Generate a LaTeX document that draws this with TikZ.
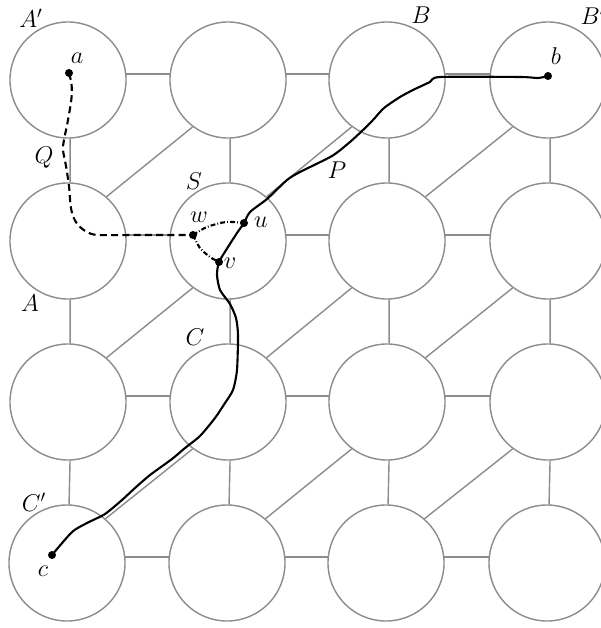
\documentclass[tikz,border=0pt]{standalone}
\usepackage{tikz}
\usetikzlibrary{positioning}
\usepackage{xcolor}
\definecolor{gridgray}{RGB}{140,140,140}

\begin{document}
\begin{tikzpicture}[
  x=0.025cm, y=-0.025cm,
  disk/.style={circle, draw=gridgray, line width=1pt, minimum size=2.9cm, inner sep=0pt},
  edge/.style={draw=gridgray, line width=1pt},
  dot/.style={circle, fill=black, inner sep=0pt, minimum size=2mm},
  lbl/.style={font=\LARGE, inner sep=0pt},
  walk/.style={line width=1.5pt, line join=round, line cap=round},
  qwalk/.style={walk, dash pattern=on 5pt off 3pt, line cap=butt},
  link/.style={walk, dash pattern=on 3.5pt off 1.5pt on 0.6pt off 1.5pt, line cap=butt},
]
  \useasboundingbox (0,0) rectangle (600,628);

  % the grid of disks
  \node[disk] (d11) at (68,80) {};
  \node[disk] (d12) at (228,80) {};
  \node[disk] (d13) at (387,80) {};
  \node[disk] (d14) at (548,80) {};
  \node[disk] (d21) at (68,241) {};
  \node[disk] (d22) at (228,241) {};
  \node[disk] (d23) at (387,241) {};
  \node[disk] (d24) at (548,241) {};
  \node[disk] (d31) at (68,402) {};
  \node[disk] (d32) at (228,402) {};
  \node[disk] (d33) at (387,402) {};
  \node[disk] (d34) at (548,402) {};
  \node[disk] (d41) at (67,563) {};
  \node[disk] (d42) at (227,563) {};
  \node[disk] (d43) at (386,563) {};
  \node[disk] (d44) at (547,563) {};

  % rows
  \draw[edge] (d11.6) -- (d12.174) (d12.6) -- (d13.174) (d13.6) -- (d14.174);
  \draw[edge] (d21.6) -- (d22.174) (d22.6) -- (d23.174) (d23.6) -- (d24.174);
  \draw[edge] (d31.6) -- (d32.174) (d32.6) -- (d33.174) (d33.6) -- (d34.174);
  \draw[edge] (d41.6) -- (d42.174) (d42.6) -- (d43.174) (d43.6) -- (d44.174);
  % columns
  \draw[edge] (d11.-88) -- (d21.88) (d21.-88) -- (d31.88) (d31.-88) -- (d41.88);
  \draw[edge] (d12.-88) -- (d22.88) (d22.-88) -- (d32.88) (d32.-88) -- (d42.88);
  \draw[edge] (d13.-88) -- (d23.88) (d23.-88) -- (d33.88) (d33.-88) -- (d43.88);
  \draw[edge] (d14.-88) -- (d24.88) (d24.-88) -- (d34.88) (d34.-88) -- (d44.88);
  % diagonals
  \draw[edge] (d21.49) -- (d12.233) (d22.49) -- (d13.233) (d23.49) -- (d14.233);
  \draw[edge] (d31.49) -- (d22.233) (d32.49) -- (d23.233) (d33.49) -- (d24.233);
  \draw[edge] (d41.49) -- (d32.233) (d42.49) -- (d33.233) (d43.49) -- (d34.233);

  % points
  \node[dot] (a) at (69,73) {};
  \node[dot] (b) at (548,76) {};
  \node[dot] (c) at (52,555) {};
  \node[dot] (u) at (244,223) {};
  \node[dot] (v) at (219,262) {};
  \node[dot] (w) at (193,235) {};

  % path P from b to c
  \draw[walk] plot[smooth, tension=0.4] coordinates {(b) (538,78) (520,77) (440,77)
    (430,82) (413,90) (400,97) (384,108) (373,120) (363,130) (350,142) (332,156)
    (300,172) (287,180) (267,199) (250,212) (u) (237,233) (228,247) (v) (217,275)
    (220,290) (230,304) (236,318) (238,335) (237,370) (233,390) (225,403) (215,418)
    (200,436) (185,448) (172,459) (150,475) (135,488) (122,500) (105,514) (87,523)
    (72,532) (c)};

  % path Q from a to w
  \draw[qwalk] plot[smooth, tension=0.5] coordinates {(a) (71.5,84) (71.5,98) (68,120)
    (64,140) (63,150) (66,166) (69,186) (70.5,205) (73,216) (78,225) (87,232) (98,235)
    (135,235) (w)};

  \draw[link] plot[smooth] coordinates {(w) (207,227) (226,222) (u)};
  \draw[link] plot[smooth] coordinates {(w) (200,248) (210,257) (v)};

  % labels
  \node[lbl] (lA1) at (31,18) {$A'$};
  \node[lbl] (lA) at (30,303) {$A$};
  \node[lbl] (lB) at (421,15) {$B$};
  \node[lbl] (lB1) at (593,15) {$B'$};
  \node[lbl] (lC) at (195,337) {$C$};
  \node[lbl] (lC1) at (34,502) {$C'$};
  \node[lbl] (lS) at (194,181) {$S$};
  \node[lbl] (lP) at (337,170) {$P$};
  \node[lbl] (lQ) at (44,158) {$Q$};
  \node[lbl] (la) at (77,58) {$a$};
  \node[lbl] (lb) at (556,56) {$b$};
  \node[lbl] (lc) at (43,571) {$c$};
  \node[lbl] (lu) at (261,222) {$u$};
  \node[lbl] (lv) at (230,263) {$v$};
  \node[lbl] (lw) at (199,217) {$w$};
\end{tikzpicture}
\end{document}
